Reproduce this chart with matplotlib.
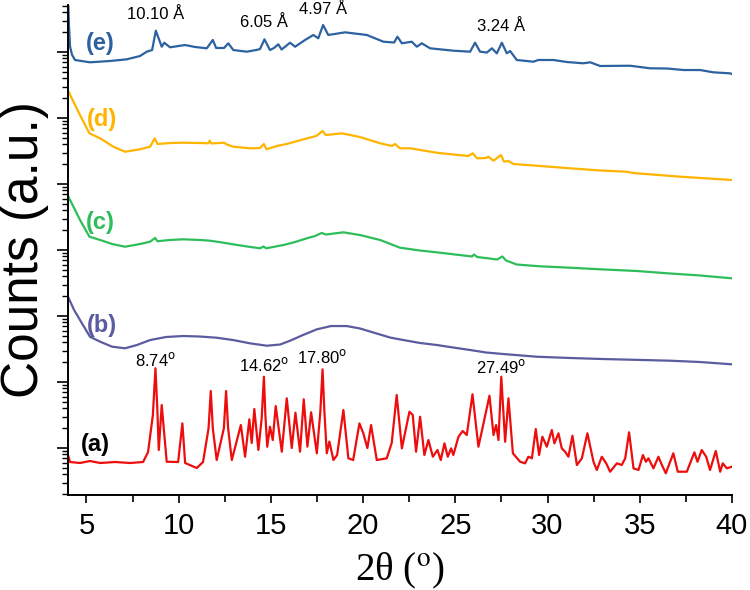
import numpy as np
import matplotlib
matplotlib.use("Agg")
import matplotlib.pyplot as plt
from matplotlib.ticker import LogLocator, MultipleLocator, NullFormatter

plt.rcParams['font.family'] = ['Liberation Sans', 'DejaVu Sans']

# 2theta (deg) and log10(counts)
tt_a = [4.00, 4.11, 4.65, 5.19, 5.74, 6.55, 7.36, 8.07, 8.34, 8.60, 8.74, 8.84, 8.92, 9.08, 9.35, 9.97,
        10.20, 10.35, 10.98, 11.32, 11.62, 11.74, 11.85, 12.06, 12.45, 12.57, 12.68, 12.88, 13.37, 13.60, 13.83, 13.96,
        14.10, 14.32, 14.50, 14.62, 14.70, 14.80, 14.95, 15.10, 15.26, 15.59, 15.86, 16.13, 16.33, 16.58,
        16.78, 16.98, 17.18, 17.49, 17.68, 17.80, 17.90, 18.03, 18.17, 18.39, 18.59, 18.93, 19.20, 19.46,
        19.80, 20.01, 20.23, 20.43, 20.74, 21.28, 21.55, 21.82, 22.10, 22.51, 22.69, 22.87,
        23.09, 23.32, 23.54, 23.78, 24.03, 24.21, 24.41, 24.59, 24.77, 24.89, 25.17, 25.40,
        25.62, 25.93, 26.25, 26.43, 26.85, 27.07, 27.21, 27.34, 27.49, 27.70, 27.88, 28.12,
        28.51, 28.78, 28.96, 29.15, 29.36, 29.54, 29.72, 29.96, 30.23, 30.37, 30.59, 30.77,
        30.95, 31.13, 31.35, 31.59, 31.86, 32.16, 32.49, 32.67, 32.94, 33.18, 33.39, 33.76,
        34.02, 34.21, 34.42, 34.66, 34.93, 35.17, 35.33, 35.47, 35.74, 36.01, 36.20, 36.41,
        36.82, 37.06, 37.55, 37.96, 38.13, 38.36, 38.60, 38.81, 39.12, 39.36, 39.50, 39.72,
        40.00]
lg_a = [1.894, 1.788, 1.773, 1.803, 1.773, 1.788, 1.773, 1.788, 1.939, 2.500, 3.208, 2.600, 1.970, 2.652,
        1.792, 1.788, 2.374, 1.773, 1.697, 1.788, 2.300, 2.864, 2.300, 1.818, 2.300, 2.864, 2.300, 1.818, 2.348, 1.868,
        2.435, 2.076, 2.591, 1.970, 2.450, 3.080, 2.500, 2.020, 2.323, 2.121, 2.636, 1.944, 2.753, 2.000,
        2.535, 1.944, 2.738, 2.020, 2.541, 1.920, 2.550, 3.192, 2.550, 1.920, 2.098, 1.818, 1.894, 2.576,
        1.844, 1.818, 2.374, 2.223, 2.000, 2.348, 1.818, 1.844, 2.076, 2.803, 1.995, 2.550,
        2.500, 1.944, 2.474, 1.894, 2.121, 1.868, 1.970, 1.818, 2.071, 1.868, 1.995, 1.894,
        2.171, 2.258, 2.197, 2.814, 2.020, 2.247, 2.792, 2.197, 2.348, 2.121, 3.080, 2.095,
        2.753, 1.920, 1.792, 1.768, 1.868, 1.844, 2.288, 1.894, 2.171, 2.020, 2.273, 2.071,
        2.223, 1.995, 1.944, 1.868, 2.186, 1.742, 1.844, 2.223, 1.792, 1.667, 1.868, 1.768,
        1.641, 1.768, 1.742, 1.844, 2.238, 1.692, 1.667, 1.894, 1.792, 1.844, 1.692, 1.868,
        1.742, 1.617, 1.920, 1.641, 1.641, 1.935, 1.792, 1.970, 1.868, 1.667, 1.955, 1.641,
        1.768, 1.692, 1.717]

tt_b = [4.00, 4.33, 4.65, 5.19, 5.74, 6.39, 7.09, 7.74, 8.45, 9.31, 10.25, 11.16, 12.06,
        12.95, 13.87, 14.78, 15.50, 16.04, 16.74, 17.49, 18.26, 19.11, 19.83, 20.65, 21.46,
        22.18, 23.09, 23.99, 24.88, 25.80, 26.67, 27.61, 29.42, 31.22, 33.03, 34.80, 36.65,
        38.27, 40.00]
lg_b = [4.292, 4.091, 3.939, 3.686, 3.611, 3.535, 3.511, 3.561, 3.636, 3.682, 3.697, 3.689,
        3.671, 3.636, 3.586, 3.550, 3.568, 3.626, 3.712, 3.798, 3.848, 3.848, 3.811, 3.742,
        3.674, 3.636, 3.591, 3.561, 3.523, 3.485, 3.447, 3.424, 3.383, 3.364, 3.348, 3.336,
        3.323, 3.303, 3.268]

tt_c = [4.00, 4.33, 4.65, 5.16, 5.74, 6.39, 7.09, 7.90, 8.45, 8.72, 8.85, 9.53, 10.25, 11.16,
        11.70, 12.35, 12.96, 13.71, 14.41, 14.60, 14.74, 15.68, 16.31, 16.94, 17.39, 17.75,
        17.99, 18.93, 19.83, 20.92, 22.00, 23.09, 23.99, 24.99, 25.91, 26.01, 26.18, 26.88,
        27.26, 27.55, 27.75, 28.33, 29.60, 31.22, 32.85, 34.84, 36.65, 38.27, 40.00]
lg_c = [5.818, 5.636, 5.455, 5.202, 5.152, 5.091, 5.050, 5.091, 5.126, 5.182, 5.133, 5.152,
        5.162, 5.152, 5.141, 5.114, 5.086, 5.053, 5.026, 5.053, 5.026, 5.076, 5.121, 5.177,
        5.212, 5.258, 5.235, 5.268, 5.227, 5.152, 5.035, 4.992, 4.965, 4.932, 4.902, 4.932,
        4.894, 4.871, 4.856, 4.902, 4.841, 4.780, 4.753, 4.732, 4.708, 4.682, 4.644, 4.614,
        4.571]

tt_d = [4.00, 4.33, 4.65, 5.16, 5.74, 6.46, 7.09, 7.90, 8.45, 8.70, 8.85, 9.53, 10.25, 11.16,
        11.61, 11.68, 11.78, 12.46, 12.62, 12.96, 13.87, 14.41, 14.62, 14.76, 15.32, 15.86,
        16.76, 17.45, 17.80, 17.98, 18.84, 19.83, 20.92, 21.57, 21.73, 22.00, 22.55, 23.99,
        25.69, 25.95, 26.18, 26.67, 26.79, 27.07, 27.47, 27.64, 27.88, 28.15, 29.42, 31.22,
        32.85, 34.30, 34.48, 34.84, 37.19, 40.00]
lg_d = [7.414, 7.227, 7.045, 6.768, 6.692, 6.565, 6.489, 6.526, 6.565, 6.692, 6.606, 6.621,
        6.626, 6.621, 6.617, 6.656, 6.614, 6.626, 6.598, 6.565, 6.541, 6.545, 6.606, 6.526,
        6.576, 6.606, 6.677, 6.727, 6.803, 6.742, 6.768, 6.712, 6.617, 6.576, 6.606, 6.541,
        6.541, 6.474, 6.424, 6.465, 6.389, 6.394, 6.414, 6.353, 6.439, 6.338, 6.348, 6.303,
        6.277, 6.238, 6.205, 6.186, 6.174, 6.162, 6.111, 6.061]

tt_e = [4.00, 4.05, 4.11, 4.22, 4.38, 5.19, 6.28, 7.18, 7.90, 8.27, 8.56, 8.76, 9.08, 9.22,
        9.53, 10.34, 10.89, 11.52, 11.85, 12.03, 12.46, 12.69, 12.96, 13.69, 14.20, 14.41,
        14.65, 14.95, 15.17, 15.40, 15.58, 16.04, 16.31, 16.85, 17.30, 17.57, 17.83, 18.11,
        19.02, 20.20, 21.10, 21.68, 21.86, 22.10, 22.64, 22.91, 23.18, 23.63, 24.89, 25.80,
        26.07, 26.34, 26.71, 26.98, 27.25, 27.52, 27.79, 27.97, 28.33, 29.23, 29.50, 30.32,
        31.06, 31.94, 32.31, 32.85, 34.48, 35.56, 36.48, 37.37, 38.27, 38.99, 39.89, 40.00]
lg_e = [8.900, 8.409, 8.080, 7.955, 7.879, 7.844, 7.864, 7.889, 7.939, 8.005, 8.030, 8.323,
        8.080, 8.141, 8.071, 8.106, 8.076, 8.056, 8.182, 8.061, 8.061, 8.132, 8.030, 8.005,
        8.030, 8.045, 8.192, 8.030, 8.061, 8.117, 8.038, 8.141, 8.080, 8.182, 8.258, 8.208,
        8.409, 8.258, 8.298, 8.258, 8.156, 8.144, 8.232, 8.132, 8.156, 8.080, 8.132, 8.056,
        8.020, 8.005, 8.141, 8.005, 7.992, 8.056, 7.980, 8.141, 7.980, 8.015, 7.879, 7.853,
        7.879, 7.879, 7.848, 7.829, 7.844, 7.788, 7.792, 7.753, 7.750, 7.727, 7.727, 7.692,
        7.677, 7.667]

curves = [
    ("(a)", tt_a, lg_a, "#ee0d0d", "black", 5.5, 2.05),
    ("(b)", tt_b, lg_b, "#5b5b9f", "#5b5b9f", 5.85, 3.85),
    ("(c)", tt_c, lg_c, "#2ebd5b", "#2ebd5b", 5.75, 5.41),
    ("(d)", tt_d, lg_d, "#ffb400", "#ffb400", 5.85, 6.97),
    ("(e)", tt_e, lg_e, "#2d62a0", "#2d62a0", 5.75, 8.13),
]

# peak labels
deg_pos = [8.74, 14.62, 17.80, 27.49]
deg_lab = ["8.74", "14.62", "17.80", "27.49"]
deg_lg = [3.34, 3.26, 3.38, 3.23]
ang_pos = [8.74, 14.62, 17.80, 27.49]
ang_lab = ["10.10 Å", "6.05 Å", "4.97 Å", "3.24 Å"]
ang_lg = [8.57, 8.45, 8.65, 8.38]

fig = plt.figure(figsize=(7.5, 5.9), dpi=100)
ax = fig.add_axes([0.0907, 0.161, 0.8853, 0.8305])

for name, x, lg, col, tcol, lx, ly in curves:
    ax.plot(x, 10 ** np.array(lg), color=col, lw=1.6)
    ax.text(lx, 10 ** ly, name, color=tcol, fontsize=17, fontweight='bold',
            ha='center', va='center')

for x, t, y in zip(deg_pos, deg_lab, deg_lg):
    ax.text(x, 10 ** y, t + r"$^{\mathrm{o}}$", fontsize=12, ha='center', va='center',
            math_fontfamily='dejavusans')
for x, t, y in zip(ang_pos, ang_lab, ang_lg):
    ax.text(x, 10 ** y, t, fontsize=12, ha='center', va='center')

ax.set_yscale('log')
ax.set_xlim(4, 40)
ax.set_ylim(10 ** 1.288, 10 ** 8.712)
ax.xaxis.set_major_locator(MultipleLocator(5))
ax.xaxis.set_minor_locator(MultipleLocator(2.5))
ax.yaxis.set_major_locator(LogLocator(base=10, numticks=20))
ax.yaxis.set_minor_locator(LogLocator(base=10, subs=np.arange(2, 10), numticks=20))
ax.yaxis.set_major_formatter(NullFormatter())
ax.yaxis.set_minor_formatter(NullFormatter())
ax.tick_params(axis='x', which='major', length=6, width=1.2, labelsize=21, pad=6)
ax.tick_params(axis='x', which='minor', length=5, width=1.2)
ax.tick_params(axis='y', which='major', length=8, width=1.2)
ax.tick_params(axis='y', which='minor', length=4, width=1.0)
for s in ['top', 'right']:
    ax.spines[s].set_visible(False)
for s in ['left', 'bottom']:
    ax.spines[s].set_linewidth(1.4)

ax.set_ylabel("Counts (a.u.)", fontsize=37, labelpad=2)
ax.set_xlabel(r"2θ ($^{\mathrm{o}}$)", fontsize=28, family='Liberation Serif',
              math_fontfamily='stix', labelpad=8)

fig.savefig("out.png", dpi=100)
